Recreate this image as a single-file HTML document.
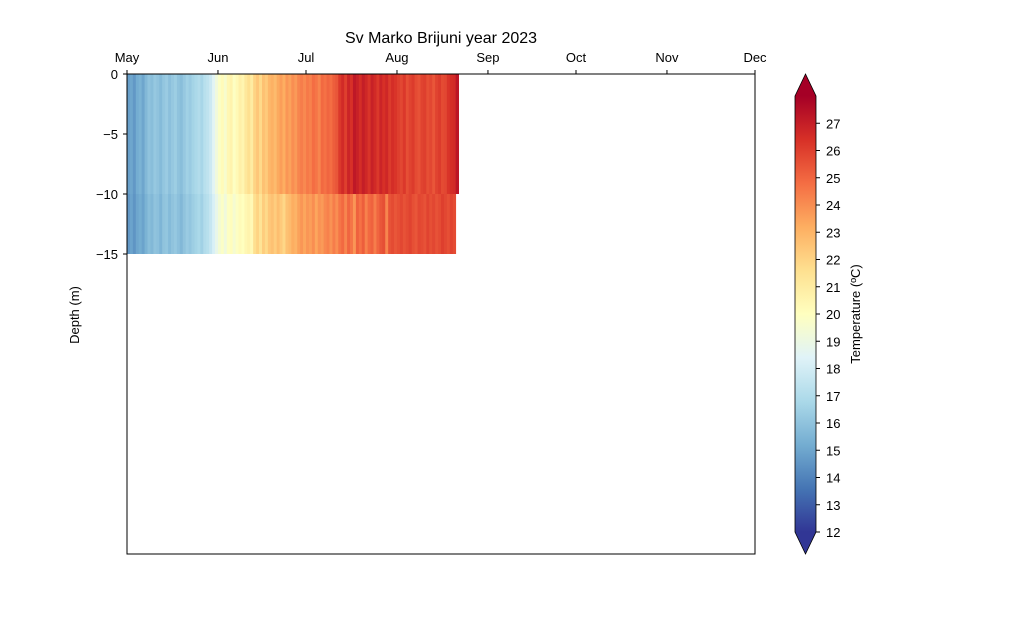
<!DOCTYPE html>
<html><head><meta charset="utf-8"><style>body{margin:0;background:#fff}svg{display:block;font-family:"Liberation Sans","DejaVu Sans",sans-serif}</style></head>
<body>
<svg id="c" width="1014" height="622" viewBox="0 0 1014 622" xmlns="http://www.w3.org/2000/svg"></svg>
<script>
const monthLabels=["May","Jun","Jul","Aug","Sep","Oct","Nov","Dec"];
const monthDays=[0,31,61,92,123,153,184,214];
const depthTicks=[0,-5,-10,-15];
const cbTicks=[12,13,14,15,16,17,18,19,20,21,22,23,24,25,26,27];
const topDepth=[0,-10];
const bottomDepth=[-10,-15];
const topTemps=[14.8,15.0,14.6,15.2,15.4,15.0,15.6,16.0,15.8,16.2,16.0,15.7,16.1,16.3,15.9,16.2,16.4,16.0,15.8,16.2,16.5,16.3,16.6,16.8,17.0,16.7,17.2,17.4,17.8,18.5,19.2,
19.8,20.2,19.6,20.4,20.6,19.9,20.3,20.8,20.5,21.2,21.6,21.0,22.0,22.4,21.8,22.6,22.3,22.9,23.1,22.8,23.3,23.6,23.2,23.8,23.5,24.0,23.7,24.2,24.4,24.1,
24.5,24.3,24.8,24.6,24.2,24.9,24.7,25.0,24.8,25.2,25.4,26.2,26.6,26.0,26.8,26.4,27.2,26.9,26.5,27.0,26.7,26.3,26.9,26.6,26.2,26.8,26.4,26.7,26.1,26.5,26.3,
26.0,25.8,26.2,25.6,25.9,26.1,25.7,25.5,25.9,26.0,25.6,25.8,25.4,25.9,26.1,25.7,25.8,26.3,26.5,26.6,27.3];
const bottomTemps=[14.6,14.9,14.5,15.0,15.2,14.9,15.4,15.8,15.6,16.0,15.9,15.5,16.0,16.1,15.7,16.0,16.2,15.9,15.6,16.0,16.3,16.1,16.4,16.6,16.8,16.5,17.0,17.2,17.6,18.2,18.8,
19.4,19.8,19.2,19.9,20.1,19.5,19.9,20.2,20.0,20.4,20.6,20.3,21.6,22.0,21.4,22.2,21.8,22.4,22.6,22.2,22.7,22.3,21.9,22.6,22.8,23.2,23.0,23.5,23.8,23.4,
23.8,23.6,24.0,23.4,23.9,23.7,24.1,24.3,23.9,24.4,24.0,24.6,24.9,24.2,25.0,24.6,23.8,25.1,24.7,25.2,24.3,24.9,25.1,24.4,25.0,25.4,25.6,24.2,25.5,25.7,25.4,
25.6,25.8,25.5,25.7,25.9,25.6,25.4,25.8,25.7,25.5,25.9,25.6,25.8,25.5,25.7,26.0,25.8,25.6,25.9,25.7];

const NS="http://www.w3.org/2000/svg",svg=document.getElementById('c');
function mk(t,a,p){const e=document.createElementNS(NS,t);for(const k in a)e.setAttribute(k,a[k]);(p||svg).appendChild(e);return e;}
const X0=127,X1=755,Y0=74,Y1=554,VMIN=12,VMAX=28;
const xs=d=>X0+d*(X1-X0)/214;
const ys=v=>Y0+(-v)*(Y1-Y0)/40;
const stops=["#313695","#4575b4","#74add1","#abd9e9","#e0f3f8","#ffffbf","#fee090","#fdae61","#f46d43","#d73027","#a50026"];
function hex(h){return [1,3,5].map(i=>parseInt(h.substr(i,2),16));}
function cmap(v){let t=(v-VMIN)/(VMAX-VMIN);t=Math.max(0,Math.min(1,t));const f=t*10,i=Math.min(9,Math.floor(f)),r=f-i;const a=hex(stops[i]),b=hex(stops[i+1]);return `rgb(${a.map((c,k)=>Math.round(c+(b[k]-c)*r)).join(',')})`;}

const g=mk('g',{});


function row(arr,dep,name){arr.forEach((v,i)=>{const r=mk('rect',{x:xs(i),y:ys(dep[0]),width:xs(i+1)-xs(i)+0.4,height:ys(dep[1])-ys(dep[0]),fill:cmap(v)},g);

});}
row(topTemps,topDepth,'surface');
row(bottomTemps,bottomDepth,'bottom');

const fr=mk('rect',{x:X0,y:Y0,width:X1-X0,height:Y1-Y0,fill:'none',stroke:'#000','stroke-width':1});


monthLabels.forEach((m,i)=>{const x=xs(monthDays[i]);mk('line',{x1:x,x2:x,y1:Y0,y2:Y0-4,stroke:'#000'});
const t=mk('text',{x:x,y:62,'text-anchor':'middle','font-size':13});t.textContent=m;

});
depthTicks.forEach(v=>{const y=ys(v);mk('line',{x1:X0,x2:X0-4,y1:y,y2:y,stroke:'#000'});
const t=mk('text',{x:118,y:y+5,'text-anchor':'end','font-size':13});t.textContent=v===0?'0':'\u2212'+(-v);

});
const yl=mk('text',{x:79,y:315,'text-anchor':'middle','font-size':13,transform:'rotate(-90 79 315)'});yl.textContent='Depth (m)';


const ti=mk('text',{x:441,y:43,'text-anchor':'middle','font-size':16});ti.textContent='Sv Marko Brijuni year 2023';



const CX0=795,CX1=816,CB0=532,CT0=96;
const cy=v=>CB0-(v-VMIN)*(CB0-CT0)/(VMAX-VMIN);
const defs=mk('defs',{});const lg=mk('linearGradient',{id:'cg',x1:0,y1:1,x2:0,y2:0},defs);
stops.forEach((s,i)=>mk('stop',{offset:i/10,'stop-color':s},lg));
const cb=mk('rect',{x:CX0,y:CT0,width:CX1-CX0,height:CB0-CT0,fill:'url(#cg)'});


mk('polygon',{points:`${CX0},${CT0} ${(CX0+CX1)/2},74 ${CX1},${CT0}`,fill:stops[10]});
mk('polygon',{points:`${CX0},${CB0} ${(CX0+CX1)/2},554 ${CX1},${CB0}`,fill:stops[0]});
mk('polygon',{points:`${CX0},${CT0} ${(CX0+CX1)/2},74 ${CX1},${CT0} ${CX1},${CB0} ${(CX0+CX1)/2},554 ${CX0},${CB0}`,fill:'none',stroke:'#000','stroke-width':0.8});
cbTicks.forEach(v=>{const y=cy(v);mk('line',{x1:CX1,x2:CX1+4,y1:y,y2:y,stroke:'#000'});
const t=mk('text',{x:826,y:y+5,'font-size':13});t.textContent=v;

});
const cl=mk('text',{x:860,y:314,'text-anchor':'middle','font-size':13,transform:'rotate(-90 860 314)'});cl.textContent='Temperature (ºC)';


</script>
</body></html>
